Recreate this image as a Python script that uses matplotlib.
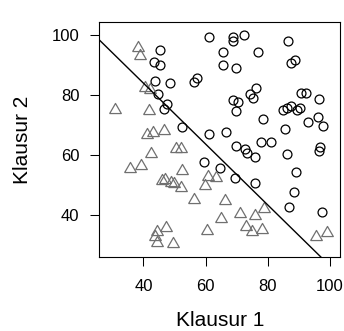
import matplotlib
matplotlib.use("Agg")
import matplotlib.pyplot as plt
import numpy as np

plt.rcParams['font.family'] = ['Liberation Sans', 'DejaVu Sans']

# Klausur 1 / Klausur 2 scores
# bestanden (circles)
pass_k1 = [45.5, 43.4, 45.4, 43.6, 48.4, 44.8, 47.7, 46.7, 52.5, 61.0,
           68.9, 69.0, 72.3, 65.7, 77.0, 65.7, 69.8, 57.3, 56.3, 76.4,
           74.2, 75.3, 68.9, 70.5, 69.9, 78.5, 61.0, 66.6, 86.7, 88.8,
           87.5, 90.8, 92.2, 96.6, 85.0, 86.1, 87.4, 89.6, 90.5, 96.2,
           92.9, 97.8, 85.7, 78.0, 81.0, 69.8, 72.7, 73.3, 76.0, 86.3,
           96.7, 96.5, 89.2, 88.5, 87.0, 97.5, 59.4, 64.8, 69.6, 75.8]
pass_k2 = [94.8, 90.8, 90.0, 84.7, 83.8, 80.3, 77.0, 75.2, 69.3, 99.2,
           99.4, 97.8, 100.0, 94.4, 94.2, 89.8, 88.9, 85.6, 84.1, 82.2,
           80.2, 79.1, 78.2, 77.6, 74.7, 72.0, 67.0, 67.6, 97.8, 91.7,
           90.6, 80.6, 80.6, 78.7, 74.8, 75.7, 76.3, 75.1, 75.6, 72.6,
           70.8, 69.6, 68.7, 64.3, 64.3, 62.8, 61.8, 60.6, 59.2, 60.4,
           62.5, 61.4, 54.3, 47.6, 42.6, 40.9, 57.5, 55.6, 52.3, 50.8]

# nicht bestanden (triangles)
fail_k1 = [38.4, 38.9, 40.5, 42.2, 30.8, 41.7, 41.2, 43.0, 46.7, 42.5,
           50.5, 52.1, 35.7, 39.3, 52.3, 46.0, 46.8, 48.8, 49.9, 52.1,
           60.9, 63.3, 59.9, 56.4, 66.4, 64.9, 60.5, 71.2, 75.9, 78.9,
           73.0, 75.1, 78.1, 95.6, 99.0, 44.4, 47.3, 43.8, 44.3, 49.6]
fail_k2 = [96.1, 93.6, 82.8, 82.2, 75.6, 75.3, 67.2, 68.1, 68.7, 61.1,
           62.5, 62.7, 56.0, 56.9, 55.3, 51.8, 52.4, 51.3, 51.0, 49.8,
           53.3, 52.9, 50.2, 45.7, 45.3, 39.4, 35.3, 41.1, 40.3, 42.7,
           36.6, 34.9, 35.5, 33.3, 34.7, 34.9, 36.2, 33.4, 31.2, 31.0]

# decision boundary: k2 = intercept + slope * k1
boundary_intercept = 124.4
boundary_slope = -1.013

ticks = [40, 60, 80, 100]

fig = plt.figure(figsize=(3.44, 3.31), dpi=100)
ax = fig.add_axes([0.2887, 0.2227, 0.7006, 0.7123])

# equilateral triangle like R's pch = 2
tri = [(-1.3468, -1.1664), (1.3468, -1.1664), (0, 1.1664), (-1.3468, -1.1664)]

ax.plot(pass_k1, pass_k2, linestyle='none', marker='o', markersize=6.4,
        markerfacecolor='none', markeredgecolor='black', markeredgewidth=0.9)
ax.plot(fail_k1, fail_k2, linestyle='none', marker=tri, markersize=8.4,
        markerfacecolor='none', markeredgecolor='#707070', markeredgewidth=0.9)

xl = np.array([20, 110])
ax.plot(xl, boundary_intercept + boundary_slope * xl, color='black', linewidth=1.0)

ax.set_xlim(25.8, 103.4)
ax.set_ylim(25.9, 104.4)
ax.set_xticks(ticks)
ax.set_yticks(ticks)
ax.tick_params(direction='out', length=6.7, width=0.75, labelsize=12, color='black')
ax.tick_params(axis='x', pad=9)
ax.tick_params(axis='y', pad=7.5)
for s in ax.spines.values():
    s.set_linewidth(0.8)

ax.set_xlabel('Klausur 1', fontsize=15)
ax.set_ylabel('Klausur 2', fontsize=15)
ax.xaxis.set_label_coords(0.5, -0.228)
ax.yaxis.set_label_coords(-0.278, 0.5)

fig.savefig('out.png', dpi=100)
